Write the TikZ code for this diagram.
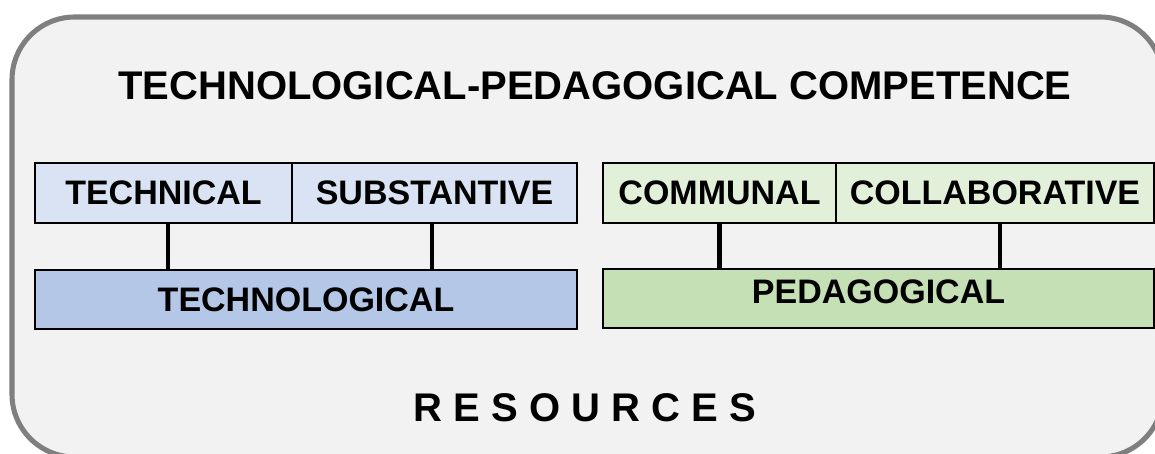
\documentclass[tikz,border=0pt]{standalone}
\usepackage{fontspec}
\setmainfont{Liberation Sans}
\usetikzlibrary{positioning}
\definecolor{panelgray}{HTML}{F2F2F2}
\definecolor{panelrim}{HTML}{7F7F7F}
\definecolor{techlight}{HTML}{DAE3F3}
\definecolor{techdark}{HTML}{B4C7E7}
\definecolor{pedalight}{HTML}{E2F0D9}
\definecolor{pedadark}{HTML}{C5E0B4}
\tikzset{
x=0.75pt, y=-0.75pt, % one unit is one pixel of the reference
cell/.style={draw, line width=2.2pt, inner sep=0pt, outer sep=0pt, minimum height=45pt, font=\bfseries\fontsize{25.5}{30}\selectfont}, % every labelled box
link/.style={line width=3.6pt}, % the bars between the rows
heading/.style={font=\bfseries\fontsize{30}{36}\selectfont},
}
\begin{document}
\begin{tikzpicture}
            \useasboundingbox (0,0) rectangle (1155,453);
            \clip (0,0) rectangle (1155,453);
            \draw[line width=3.8pt, panelrim, fill=panelgray, rounded corners=47pt] (12,17) rectangle (1163,457);

            \node[heading] (title) at (595,86) {TECHNOLOGICAL-PEDAGOGICAL COMPETENCE};

            % technological side
            \node[cell, fill=techlight, minimum width=192.75pt] (technical) at (163.5,193) {TECHNICAL};
            \node[cell, fill=techlight, minimum width=213.75pt, right=0pt of technical] (substantive) {SUBSTANTIVE};
            \node[cell, fill=techdark, minimum width=406.5pt, minimum height=44.25pt] (technological) at (306,299.5) {TECHNOLOGICAL};

            % pedagogical side
            \node[cell, fill=pedalight, minimum width=174.75pt] (communal) at (719.5,193) {COMMUNAL};
            \node[cell, fill=pedalight, minimum width=238.5pt, right=0pt of communal] (collaborative) {COLLABORATIVE};
            \node[cell, fill=pedadark, minimum width=413.25pt, minimum height=44.25pt, text depth=9.8pt] (pedagogical) at (878.5,298.5) {PEDAGOGICAL};

            \draw[link]
                ([xshift=3.4pt]technical.south) -- ([xshift=3.4pt]technical.south |- technological.north)
                ([xshift=-1.9pt]substantive.south) -- ([xshift=-1.9pt]substantive.south |- technological.north)
                (communal.south) -- (communal.south |- pedagogical.north)
                ([xshift=3.8pt]collaborative.south) -- ([xshift=3.8pt]collaborative.south |- pedagogical.north)
            ;

            \node[heading] (resources) at (585,408) {R E S O U R C E S};
        \end{tikzpicture}
\end{document}
